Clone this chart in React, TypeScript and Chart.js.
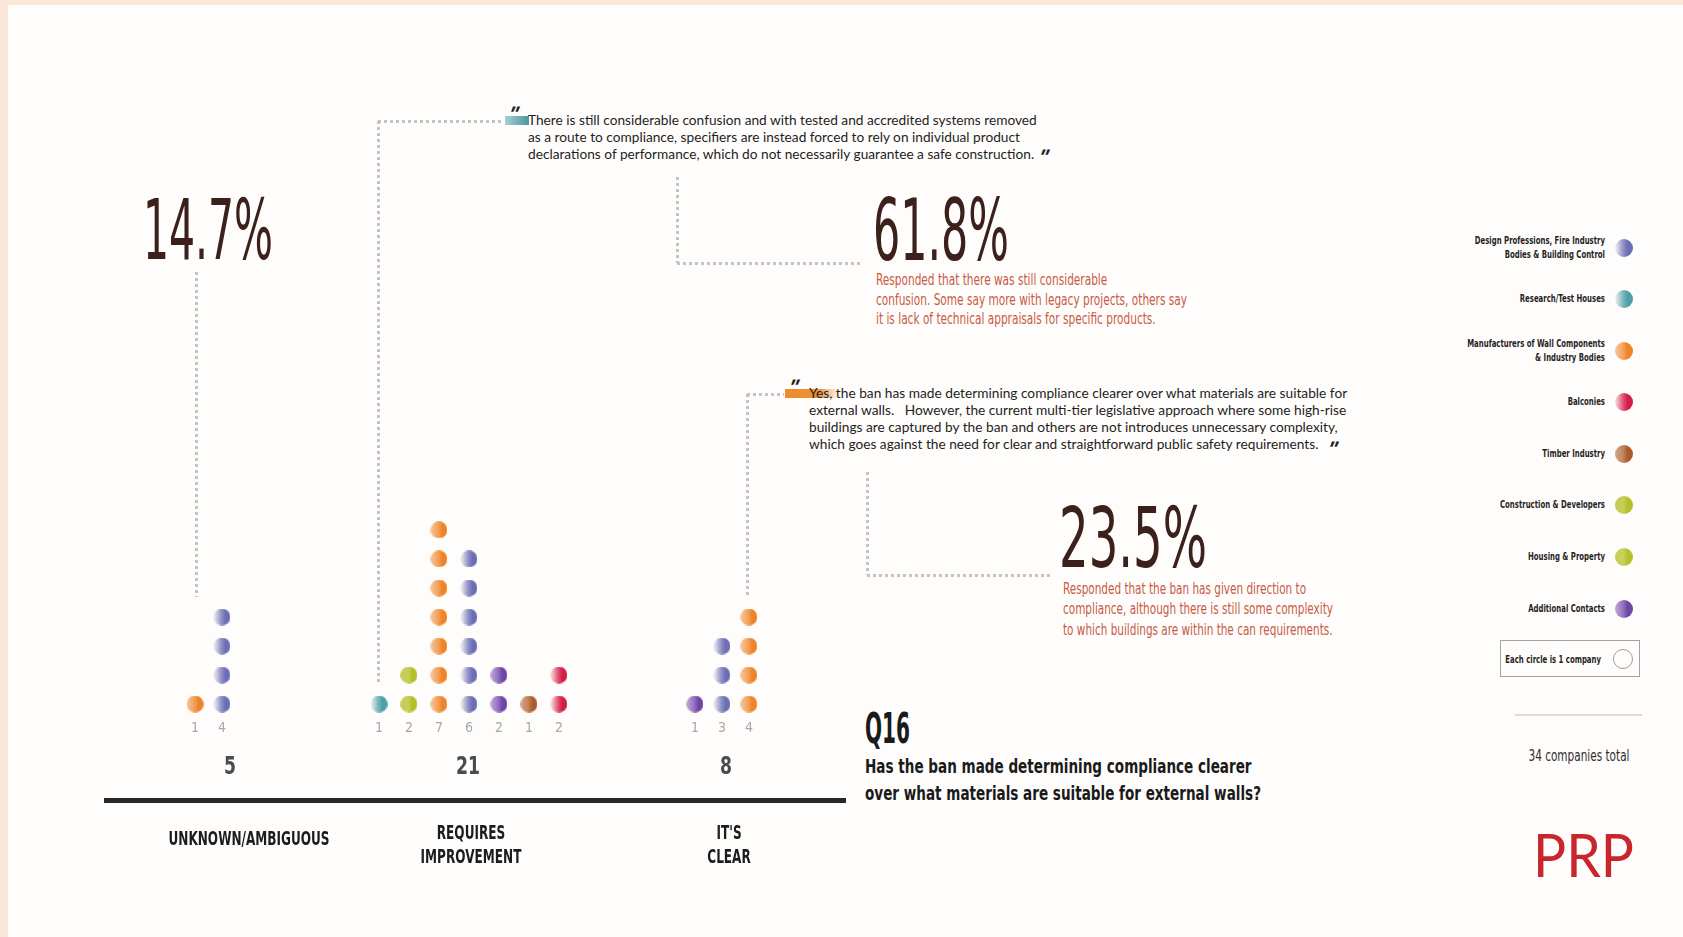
import React, { useEffect, useRef } from 'react';
import { Chart, registerables } from 'chart.js';

Chart.register(...registerables);

// ---------------- data ----------------
const sectorNames = [
  ['Design Professions, Fire Industry', 'Bodies & Building Control'],
  ['Research/Test Houses'],
  ['Manufacturers of Wall Components', '& Industry Bodies'],
  ['Balconies'],
  ['Timber Industry'],
  ['Construction & Developers'],
  ['Housing & Property'],
  ['Additional Contacts'],
];
const answerLabels = [['UNKNOWN/AMBIGUOUS'], ['REQUIRES', 'IMPROVEMENT'], ["IT'S", 'CLEAR']];
const unknownSectors = [2, 0];
const unknownCounts = [1, 4];
const improvementSectors = [1, 5, 2, 0, 7, 4, 3];
const improvementCounts = [1, 2, 7, 6, 2, 1, 2];
const clearSectors = [7, 0, 2];
const clearCounts = [1, 3, 4];
const totalCompanies = 34;
const questionId = 'Q16';
const question = ['Has the ban made determining compliance clearer', 'over what materials are suitable for external walls?'];
const improvementQuote = [
  'There is still considerable confusion and with tested and accredited systems removed',
  'as a route to compliance, specifiers are instead forced to rely on individual product',
  'declarations of performance, which do not necessarily guarantee a safe construction.',
];
const clearQuote = [
  'Yes, the ban has made determining compliance clearer over what materials are suitable for',
  'external walls.   However, the current multi-tier legislative approach where some high-rise',
  'buildings are captured by the ban and others are not introduces unnecessary complexity,',
  'which goes against the need for clear and straightforward public safety requirements.',
];
const improvementNote = [
  'Responded that there was still considerable',
  'confusion. Some say more with legacy projects, others say',
  'it is lack of technical appraisals for specific products.',
];
const clearNote = [
  'Responded that the ban has given direction to',
  'compliance, although there is still some complexity',
  'to which buildings are within the can requirements.',
];
const legendNote = 'Each circle is 1 company';

const groupSectors = [unknownSectors, improvementSectors, clearSectors];
const groupCounts = [unknownCounts, improvementCounts, clearCounts];
const groupTotals = groupCounts.map((c) => c.reduce((a, b) => a + b, 0));
const groupPercents = groupTotals.map((t) => ((t / totalCompanies) * 100).toFixed(1) + '%');

// ---------------- styles / layout ----------------
const sectorColors = ['#6b6eb5', '#4f9ea5', '#ee8327', '#d31c47', '#ad5b28', '#b3bf28', '#b6c22a', '#6f44a8'];
const sectorFade = [0.08, 0.1, 0.45, 0.12, 0.55, 0.8, 0.8, 0.45];

const NARROW = "'Liberation Sans Narrow','Arial Narrow','DejaVu Sans Condensed','Liberation Sans',sans-serif";
const QUOTE = "'Lato','Open Sans','Noto Sans',sans-serif";

// x in "slot" units (29px), y in dot rows
const X_MIN = -3.138;
const X_MAX = 22.448;
const Y_MIN = -2.31;
const Y_MAX = 8.724;
const GROUP_START = [0, 6.345, 17.241];
const GROUP_STEP = [0.93, 1.034, 0.93];
const LABEL_SLOT = [1.862, 9.517, 18.414];
const TOTAL_SLOT = [1.207, 9.414, 18.31];
const AXIS_H = 106;

function rgba(hex: string, a: number) {
  const n = parseInt(hex.slice(1), 16);
  return `rgba(${(n >> 16) & 255},${(n >> 8) & 255},${n & 255},${a})`;
}

function makeDot(color: string, fade: number, d: number) {
  const c = document.createElement('canvas');
  c.width = d;
  c.height = d;
  const g = c.getContext('2d')!;
  const grad = g.createLinearGradient(0, 0, d, 0);
  grad.addColorStop(0, rgba(color, fade));
  grad.addColorStop(0.45, rgba(color, 0.75));
  grad.addColorStop(0.7, rgba(color, 1));
  grad.addColorStop(1, rgba(color, 1));
  g.fillStyle = grad;
  g.beginPath();
  g.arc(d / 2, d / 2, d / 2, 0, Math.PI * 2);
  g.fill();
  return c;
}

let mctx: CanvasRenderingContext2D | null = null;
function measure(text: string, font: string) {
  if (!mctx) mctx = document.createElement('canvas').getContext('2d');
  mctx!.font = font;
  return mctx!.measureText(text).width;
}

type TxtProps = {
  lines: string[];
  x: number;
  base: number;
  size: number;
  lh?: number;
  family: string;
  weight?: string | number;
  color: string;
  width?: number;
  k?: number;
  align?: 'left' | 'center' | 'right';
  italic?: boolean;
  skew?: number;
};

function Txt({ lines, x, base, size, lh, family, weight = 'normal', color, width, k, align = 'left', italic, skew }: TxtProps) {
  const font = `${italic ? 'italic ' : ''}${weight} ${size}px ${family}`;
  let scale = k ?? 1;
  if (width) {
    const nat = Math.max(...lines.map((l) => measure(l, font)));
    scale = width / nat;
  }
  const L = lh ?? size;
  const top = base - L / 2 - 0.3465 * size;
  const tx = align === 'left' ? '0' : align === 'center' ? '-50%' : '-100%';
  return (
    <>
      {lines.map((line, j) => (
        <div
          key={j}
          style={{
            position: 'absolute',
            left: x,
            top: top + j * L,
            whiteSpace: 'pre',
            fontFamily: family,
            fontSize: size,
            fontWeight: weight as any,
            fontStyle: italic ? 'italic' : 'normal',
            lineHeight: L + 'px',
            color,
            transform: `translateX(${tx}) scaleX(${scale})${skew ? ` skewX(${skew}deg)` : ''}`,
            transformOrigin: `${align} top`,
          }}
        >
          {line}
        </div>
      ))}
    </>
  );
}

function VLine({ x, y1, y2 }: { x: number; y1: number; y2: number }) {
  return (
    <div
      style={{
        position: 'absolute',
        left: x - 1.5,
        top: y1,
        width: 3,
        height: y2 - y1,
        background: 'repeating-linear-gradient(to bottom,#c4c4c4 0 3px,transparent 3px 6px)',
      }}
    />
  );
}
function HLine({ y, x1, x2 }: { y: number; x1: number; x2: number }) {
  return (
    <div
      style={{
        position: 'absolute',
        left: x1,
        top: y - 1.5,
        width: x2 - x1,
        height: 3,
        background: 'repeating-linear-gradient(to right,#c4c4c4 0 3px,transparent 3px 6px)',
      }}
    />
  );
}

function dotCss(i: number) {
  return `linear-gradient(to right, ${rgba(sectorColors[i], sectorFade[i])} 0%, ${rgba(sectorColors[i], 0.75)} 45%, ${sectorColors[i]} 70%, ${sectorColors[i]} 100%)`;
}

const labelPlugin = {
  id: 'groupLabels',
  afterDraw(chart: any) {
    const { ctx, chartArea } = chart;
    const xs = chart.scales.x;
    const ys = chart.scales.y;
    const y1 = ys.getPixelForValue(1);
    ctx.save();
    ctx.textAlign = 'center';
    ctx.textBaseline = 'middle';
    groupCounts.forEach((counts, g) => {
      // per-column counts
      ctx.font = `14px ${NARROW}`;
      ctx.fillStyle = '#a8a8a8';
      counts.forEach((n, i) => {
        ctx.fillText(String(n), xs.getPixelForValue(GROUP_START[g] + i * GROUP_STEP[g]), y1 + 24);
      });
      // group total
      const tf = `bold 25px ${NARROW}`;
      ctx.font = tf;
      ctx.fillStyle = '#4b4b4b';
      const tk = 12 / measure('5', tf);
      ctx.save();
      ctx.translate(xs.getPixelForValue(TOTAL_SLOT[g]), y1 + 63);
      ctx.scale(Math.min(1, tk), 1);
      ctx.fillText(String(groupTotals[g]), 0, 0);
      ctx.restore();
      // category label under the axis
      const lf = `bold 20px ${NARROW}`;
      ctx.font = lf;
      ctx.fillStyle = '#1c1c1c';
      const lk = 161 / measure('UNKNOWN/AMBIGUOUS', lf);
      const lines = answerLabels[g];
      lines.forEach((line, j) => {
        const yy = lines.length === 1 ? chartArea.bottom + 40 : chartArea.bottom + 34 + j * 24;
        ctx.save();
        ctx.translate(xs.getPixelForValue(LABEL_SLOT[g]), yy);
        ctx.scale(lk, 1);
        ctx.fillText(line, 0, 0);
        ctx.restore();
      });
    });
    ctx.restore();
  },
};

export default function App() {
  const ref = useRef<HTMLCanvasElement>(null);

  useEffect(() => {
    document.body.style.margin = '0';
    const dots = sectorColors.map((c, i) => makeDot(c, sectorFade[i], 17));
    const datasets: any[] = [];
    sectorColors.forEach((_, s) => {
      const data: { x: number; y: number }[] = [];
      groupSectors.forEach((secs, g) =>
        secs.forEach((sec, i) => {
          if (sec !== s) return;
          const x = GROUP_START[g] + i * GROUP_STEP[g];
          for (let k = 1; k <= groupCounts[g][i]; k++) data.push({ x, y: k });
        })
      );
      if (data.length)
        datasets.push({
          label: sectorNames[s].join(' '),
          data,
          pointStyle: dots[s],
          pointRadius: 8.5,
          backgroundColor: sectorColors[s],
        });
    });

    const chart = new Chart(ref.current!, {
      type: 'scatter',
      data: { datasets },
      options: {
        animation: false,
        responsive: false,
        devicePixelRatio: 1,
        events: [],
        layout: { padding: 0, autoPadding: false },
        plugins: { legend: { display: false }, tooltip: { enabled: false } },
        scales: {
          x: {
            type: 'linear',
            min: X_MIN,
            max: X_MAX,
            grid: { display: false, drawTicks: false },
            border: { display: true, width: 5, color: '#272727' },
            ticks: { display: false },
            afterFit: (scale: any) => {
              scale.height = AXIS_H;
              scale.paddingLeft = 0;
              scale.paddingRight = 0;
            },
          },
          y: { display: false, min: Y_MIN, max: Y_MAX },
        },
      } as any,
      plugins: [labelPlugin],
    });
    return () => chart.destroy();
  }, []);

  const legendY = [248, 299, 351, 402, 454, 505, 557, 609];
  const legendK = 105 / measure('Construction & Developers', `bold 11px ${NARROW}`);
  const qmark = "'Liberation Sans',sans-serif";

  return (
    <div style={{ position: 'fixed', left: 0, top: 0, width: 1683, height: 937, background: '#fbe7d9', overflow: 'hidden' }}>
      <div style={{ position: 'absolute', left: 8, top: 5, right: 0, bottom: 0, background: '#fffdfb' }} />

      {/* dotted connectors */}
      <VLine x={196} y1={272} y2={597} />
      <VLine x={378} y1={121} y2={683} />
      <HLine y={121} x1={378} x2={503} />
      <VLine x={677} y1={177} y2={263} />
      <HLine y={263} x1={677} x2={862} />
      <VLine x={747} y1={394} y2={597} />
      <HLine y={394} x1={747} x2={784} />
      <VLine x={867} y1={472} y2={575} />
      <HLine y={575} x1={867} x2={1050} />

      <canvas ref={ref} width={742} height={320 + AXIS_H} style={{ position: 'absolute', left: 104, top: 480, width: 742, height: 320 + AXIS_H }} />

      {/* big percentages */}
      <Txt lines={[groupPercents[0]]} x={143} base={259} size={84} lh={64} family={NARROW} color="#3b201c" width={130} />
      <Txt lines={[groupPercents[1]]} x={873} base={260} size={85} lh={64} family={NARROW} color="#3b201c" width={136} />
      <Txt lines={[groupPercents[2]]} x={1059} base={568} size={83} lh={62} family={NARROW} color="#3b201c" width={148} />

      {/* notes */}
      <Txt lines={improvementNote} x={876} base={286} size={15} lh={19.5} family={NARROW} color="#c65a43" width={311} />
      <Txt lines={clearNote} x={1063} base={594} size={15} lh={20.5} family={NARROW} color="#c65a43" width={270} />

      {/* quotes */}
      <div style={{ position: 'absolute', left: 505, top: 116, width: 24, height: 9, background: 'linear-gradient(to right,#a9cfd1,#4a979d)' }} />
      <Txt lines={improvementQuote} x={528} base={124} size={14} lh={17} family={QUOTE} color="#1e1e1e" width={509} />
      <Txt lines={['"']} x={513} base={121} size={21} family={qmark} weight="bold" color="#222" skew={-22} />
      <Txt lines={['"']} x={1043} base={164} size={21} family={qmark} weight="bold" color="#222" skew={-22} />

      <div style={{ position: 'absolute', left: 785, top: 389, width: 55, height: 9, background: 'linear-gradient(to right,#ee8a2e 0%,#ef8f35 60%,rgba(239,143,53,0) 100%)' }} />
      <Txt lines={clearQuote} x={809} base={397} size={14} lh={17} family={QUOTE} color="#1e1e1e" width={539} />
      <Txt lines={['"']} x={793} base={394} size={21} family={qmark} weight="bold" color="#222" skew={-22} />
      <Txt lines={['"']} x={1332} base={456} size={21} family={qmark} weight="bold" color="#222" skew={-22} />

      {/* question */}
      <Txt lines={[questionId]} x={865} base={743} size={43} lh={36} family={NARROW} weight="bold" color="#1a1a1a" width={45} />
      <Txt lines={question} x={865} base={773} size={20} lh={27} family={NARROW} weight="bold" color="#1a1a1a" width={396} />

      {/* legend */}
      {sectorNames.map((lines, i) => (
        <React.Fragment key={i}>
          <Txt
            lines={lines}
            x={1605}
            base={lines.length > 1 ? legendY[i] - 3 : legendY[i] + 4}
            size={11}
            lh={13.5}
            family={NARROW}
            weight="bold"
            color="#1f1f1f"
            k={legendK}
            align="right"
          />
          <div
            style={{
              position: 'absolute',
              left: 1624 - 9,
              top: legendY[i] - 9,
              width: 18,
              height: 18,
              borderRadius: '50%',
              background: dotCss(i),
            }}
          />
        </React.Fragment>
      ))}
      <div style={{ position: 'absolute', left: 1500, top: 640, width: 140, height: 37, border: '1.5px solid #a3a3a3', boxSizing: 'border-box' }} />
      <Txt lines={[legendNote]} x={1601} base={663} size={11} family={NARROW} weight="bold" color="#1f1f1f" k={legendK} align="right" />
      <div style={{ position: 'absolute', left: 1613, top: 649, width: 20, height: 20, borderRadius: '50%', border: '1.5px solid #9c9c9c', boxSizing: 'border-box' }} />

      <div style={{ position: 'absolute', left: 1515, top: 714, width: 127, height: 1.5, background: '#e8d6d1' }} />
      <Txt lines={[`${totalCompanies} companies total`]} x={1579} base={762} size={15} family={NARROW} color="#2e2e2e" width={101} align="center" />

      <Txt lines={['PRP']} x={1533} base={875} size={60} lh={50} family="'Lato','Liberation Sans',sans-serif" weight={400} color="#c8262c" width={101} />
    </div>
  );
}
